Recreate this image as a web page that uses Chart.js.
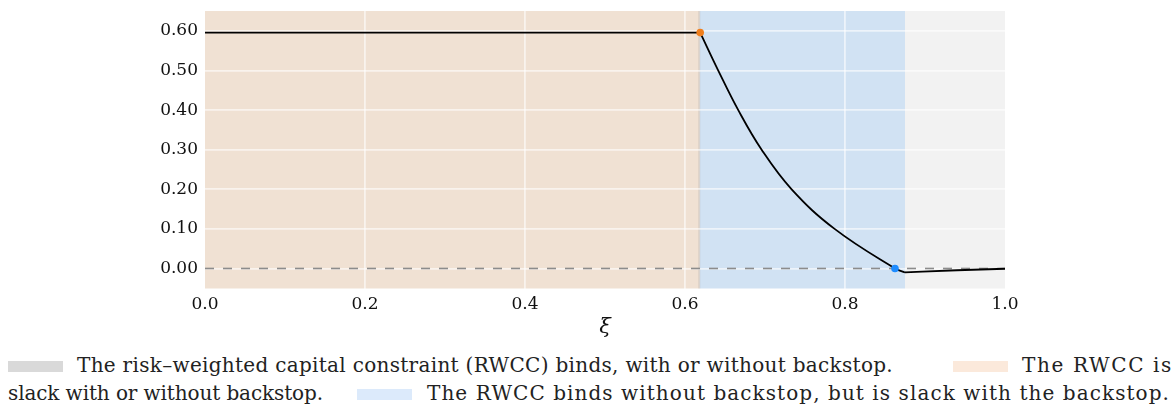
<!DOCTYPE html>
<html>
<head>
<meta charset="utf-8">
<script src="https://cdn.jsdelivr.net/npm/chart.js@4.4.1/dist/chart.umd.min.js"></script>
<style>
  html, body { margin: 0; padding: 0; background: #ffffff; }
  #wrap { position: relative; width: 1175px; height: 404px; overflow: hidden; }
  #c { position: absolute; left: 0; top: 0; }
  .lg { position: absolute; font-family: "DejaVu Serif", serif; font-size: 20px; line-height: 20px; color: #222; white-space: nowrap; }
  .sw { position: absolute; width: 55px; height: 11px; }
</style>
</head>
<body>
<div id="wrap">
  <canvas id="c" width="1175" height="345"></canvas>
  <div class="sw" id="s1" style="left:8px;top:361px;background:#d9d9d9"></div>
  <div class="lg" id="t1" style="left:77px;top:355px">The risk–weighted capital constraint (RWCC) binds, with or without backstop.</div>
  <div class="sw" id="s2" style="left:953px;top:361px;background:#fbe9db"></div>
  <div class="lg" id="t2" style="left:1022px;top:355px">The RWCC is</div>
  <div class="lg" id="t3" style="left:8px;top:383px">slack with or without backstop.</div>
  <div class="sw" id="s3" style="left:357px;top:389px;background:#dceafb"></div>
  <div class="lg" id="t4" style="left:427px;top:383px">The RWCC binds without backstop, but is slack with the backstop.</div>
</div>
<script>
// ---- data ----
const flatX = [0.0, 0.619];
const flatY = [0.596, 0.596];
const curveX = [0.619, 0.6416, 0.6666, 0.6958, 0.7333, 0.7870, 0.8625, 0.875];
const curveY = [0.596, 0.50, 0.40, 0.30, 0.20, 0.10, 0.00, -0.0101];
const tailX = [0.875, 0.940, 1.0];
const tailY = [-0.0101, -0.0045, -0.0007];
const orangePoint = [0.619, 0.596];
const bluePoint = [0.8625, 0.00];
const zeroLineX = [0.0, 1.0];
const zeroLineY = [0.0, 0.0];
const regionStarts = [0.0, 0.6185, 0.875];
const regionEnds = [0.6185, 0.875, 1.0];
const regionColors = ['#f0e1d3', '#d1e2f3', '#f2f2f2'];
const xTickValues = [0.0, 0.2, 0.4, 0.6, 0.8, 1.0];
const xTickLabels = ['0.0', '0.2', '0.4', '0.6', '0.8', '1.0'];
const yTickValues = [0.0, 0.1, 0.2, 0.3, 0.4, 0.5, 0.6];
const yTickLabels = ['0.00', '0.10', '0.20', '0.30', '0.40', '0.50', '0.60'];

const regionsPlugin = {
  id: 'regions',
  beforeDraw(chart) {
    const { ctx, chartArea: a, scales: { x } } = chart;
    ctx.save();
    for (let i = 0; i < regionStarts.length; i++) {
      const x0 = x.getPixelForValue(regionStarts[i]);
      const x1 = x.getPixelForValue(regionEnds[i]);
      ctx.fillStyle = regionColors[i];
      ctx.fillRect(x0, a.top, x1 - x0, a.bottom - a.top);
    }
    const xb = x.getPixelForValue(regionEnds[0]);
    ctx.fillStyle = 'rgba(170,170,170,0.3)';
    ctx.fillRect(xb - 1.5, a.top, 2, a.bottom - a.top);
    ctx.restore();
  }
};

const pts = (xs, ys) => xs.map((v, i) => ({ x: v, y: ys[i] }));
const serif = '"DejaVu Serif", serif';
const gridCol = 'rgba(255,255,255,0.6)';

new Chart(document.getElementById('c'), {
  type: 'scatter',
  data: {
    datasets: [
      { data: pts(zeroLineX, zeroLineY), showLine: true, borderColor: '#8c8c8c', borderWidth: 1.6, borderDash: [9, 9], pointRadius: 0, order: 4 },
      { data: pts(flatX, flatY), showLine: true, borderColor: '#000', borderWidth: 1.8, pointRadius: 0, order: 3 },
      { data: pts(curveX, curveY), showLine: true, borderColor: '#000', borderWidth: 1.8, tension: 0.4, pointRadius: 0, order: 3 },
      { data: pts(tailX, tailY), showLine: true, borderColor: '#000', borderWidth: 1.8, cubicInterpolationMode: 'monotone', pointRadius: 0, order: 3 },
      { data: [{ x: orangePoint[0], y: orangePoint[1] }], pointRadius: 3.8, pointBackgroundColor: '#f07f1d', pointBorderWidth: 0, order: 1 },
      { data: [{ x: bluePoint[0], y: bluePoint[1] }], pointRadius: 3.8, pointBackgroundColor: '#1e8cff', pointBorderWidth: 0, order: 1 }
    ]
  },
  options: {
    responsive: false,
    animation: false,
    devicePixelRatio: 1,
    layout: { padding: { left: 0, right: 170, top: 11, bottom: 0 } },
    plugins: { legend: { display: false }, tooltip: { enabled: false } },
    scales: {
      x: {
        type: 'linear', min: 0, max: 1,
        afterBuildTicks(s) { s.ticks = xTickValues.map(v => ({ value: v })); },
        afterFit(s) { s.height = 345 - 288.5; s.paddingLeft = 0; s.paddingRight = 0; },
        ticks: {
          padding: 6, color: '#111', font: { family: serif, size: 17 },
          maxRotation: 0, autoSkip: false,
          callback(v) { const i = xTickValues.findIndex(t => Math.abs(t - v) < 1e-9); return i >= 0 ? xTickLabels[i] : ''; }
        },
        grid: {
          drawTicks: false, lineWidth: 1.8,
          color(c) { const v = c.tick && c.tick.value; return (v === 0 || v === 1) ? 'rgba(0,0,0,0)' : gridCol; }
        },
        border: { display: false },
        title: {
          display: true, text: 'ξ', color: '#111',
          font: { family: serif, size: 21, style: 'italic' },
          padding: { top: 0, bottom: 5 }
        }
      },
      y: {
        type: 'linear', min: -0.0506, max: 0.6506,
        afterBuildTicks(s) { s.ticks = yTickValues.map(v => ({ value: v })); },
        afterFit(s) { s.width = 205; s.paddingTop = 0; s.paddingBottom = 0; },
        ticks: {
          padding: 7, color: '#111', font: { family: serif, size: 17 },
          autoSkip: false,
          callback(v) { const i = yTickValues.findIndex(t => Math.abs(t - v) < 1e-9); return i >= 0 ? yTickLabels[i] : ''; }
        },
        grid: { drawTicks: false, color: gridCol, lineWidth: 1.8 },
        border: { display: false }
      }
    }
  },
  plugins: [regionsPlugin]
});

// ---- fit legend text widths to the reference line layout ----
function fitSpan(el, start, end) {
  el.style.letterSpacing = '0px';
  const natural = el.getBoundingClientRect().width;
  const n = el.textContent.length;
  el.style.left = start + 'px';
  el.style.letterSpacing = ((end - start - natural) / n) + 'px';
}
fitSpan(document.getElementById('t1'), 77, 893);
fitSpan(document.getElementById('t2'), 1022, 1173);
fitSpan(document.getElementById('t3'), 8, 323);
fitSpan(document.getElementById('t4'), 427, 1170);
</script>
</body>
</html>
